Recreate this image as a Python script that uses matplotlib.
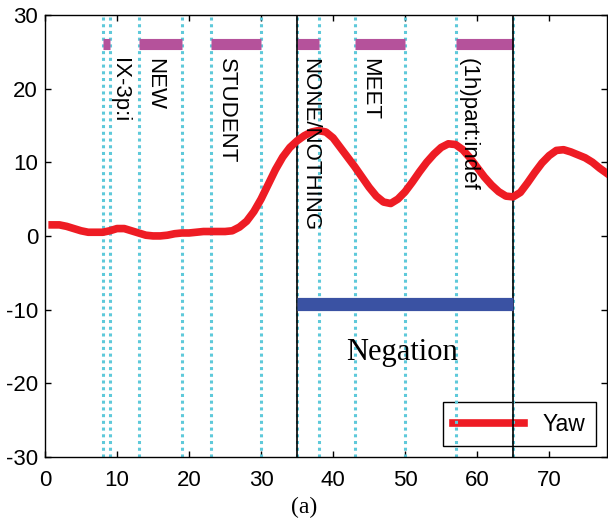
import matplotlib.pyplot as plt

plt.rcParams["axes.unicode_minus"] = False

# Yaw curve
frames = list(range(1, 79))
yaw = [1.5, 1.5, 1.3, 1.0, 0.7, 0.5, 0.5, 0.5, 0.7, 1.0,
       1.0, 0.7, 0.4, 0.1, 0.0, 0.0, 0.1, 0.3, 0.4, 0.4,
       0.5, 0.6, 0.6, 0.6, 0.6, 0.7, 1.2, 2.0, 3.3, 5.0,
       7.0, 9.0, 10.7, 12.0, 12.9, 13.6, 14.1, 14.3, 14.1, 13.3,
       12.0, 10.7, 9.4, 8.0, 6.6, 5.4, 4.6, 4.4, 5.0, 6.0,
       7.3, 8.7, 10.0, 11.1, 12.0, 12.5, 12.4, 11.7, 10.6, 9.3,
       8.0, 6.9, 6.0, 5.4, 5.3, 5.9, 7.2, 8.6, 9.9, 10.9,
       11.6, 11.7, 11.4, 11.0, 10.6, 10.0, 9.2, 8.5]

# sign glosses: start, end, label position, label
sign_start = [8, 13, 23, 35, 43, 57]
sign_end = [9, 19, 30, 38, 50, 65]
sign_label_x = [10.3, 15.2, 25.2, 36.8, 45.1, 58.7]
sign_labels = ["IX-3p:i", "NEW", "STUDENT", "NONE/NOTHING", "MEET", "(1h)part:indef"]

neg_start, neg_end = 35, 65

fig = plt.figure(figsize=(6.08, 5.29), dpi=100)
ax = fig.add_axes([0.074, 0.136, 0.924, 0.836])

# dotted boundaries of each sign
for s, e in zip(sign_start, sign_end):
    for xv in (s, e):
        ax.axvline(xv, color="#5ec9da", ls=(0, (1, 1.2)), lw=2.2, zorder=2)

# magenta gloss bars and labels
for s, e, lx, lab in zip(sign_start, sign_end, sign_label_x, sign_labels):
    ax.plot([s, e], [26, 26], color="#b5529b", lw=8, solid_capstyle="butt", zorder=3)
    ax.text(lx, 24.2, lab, rotation=-90, ha="center", va="top",
            fontsize=16, family="Liberation Sans", zorder=6)

# negation span
ax.axvline(neg_start, color="black", lw=1.2, zorder=3)
ax.axvline(neg_end, color="black", lw=1.2, zorder=3)
ax.plot([neg_start, neg_end], [-9.3, -9.3], color="#3a52a3", lw=9.5,
        solid_capstyle="butt", zorder=3)
ax.text(49.6, -15.8, "Negation", ha="center", va="center", fontsize=22,
        family="Liberation Serif")

ax.plot(frames, yaw, color="#ee1c24", lw=5.5, label="Yaw", zorder=4)

ax.set_xlim(0, 78)
ax.set_ylim(-30, 30)
ax.set_xticks(range(0, 80, 10))
ax.set_yticks(range(-30, 31, 10))
ax.tick_params(direction="in", top=True, right=True, length=4, width=1,
               labelsize=16)
ax.tick_params(axis="x", pad=9)
ax.tick_params(axis="y", pad=5)
for lbl in ax.get_xticklabels() + ax.get_yticklabels():
    lbl.set_family("Liberation Sans")
for sp in ax.spines.values():
    sp.set_linewidth(1.0)

leg = ax.legend(loc="lower right", fancybox=False, edgecolor="black",
                framealpha=1, handlelength=3.1, handletextpad=0.8,
                borderpad=0.45, borderaxespad=0,
                prop={"family": "Liberation Sans", "size": 16.5},
                bbox_to_anchor=(0.980, 0.025))
leg.get_frame().set_linewidth(1.0)
leg.set_zorder(1)

fig.text(0.5, 0.04, "(a)", ha="center", va="center", fontsize=17,
         family="Liberation Serif")

fig.savefig("out.png", dpi=100)
